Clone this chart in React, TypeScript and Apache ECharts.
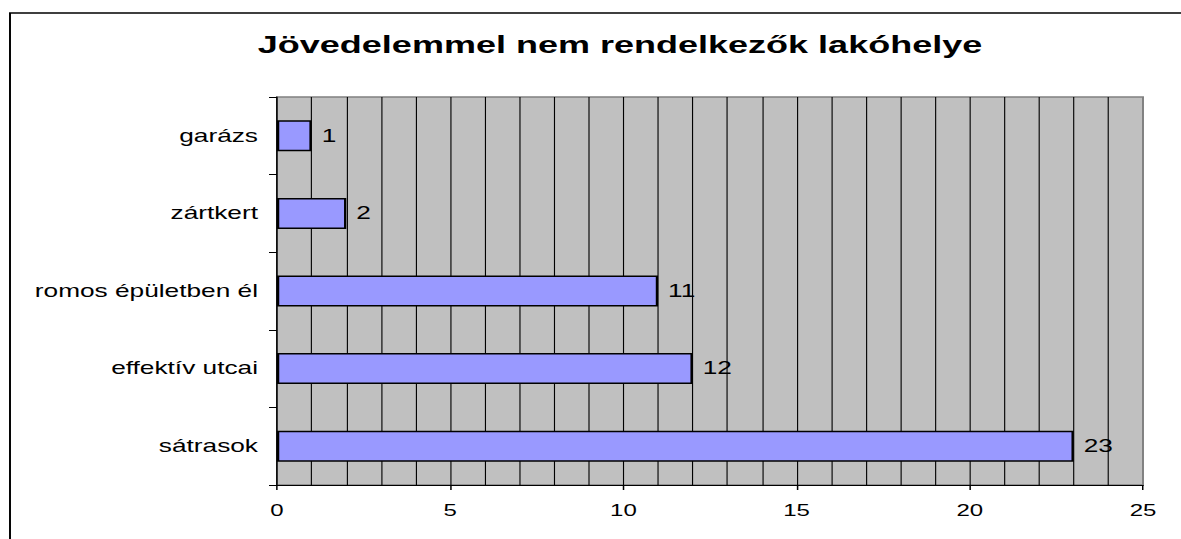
import React, { useEffect, useRef } from "react";
import * as echarts from "echarts";

const TITLE = "Jövedelemmel nem rendelkezők lakóhelye";
const categories = ["garázs", "zártkert", "romos épületben él", "effektív utcai", "sátrasok"];
const values = [1, 2, 11, 12, 23];
const xMin = 0;
const xMax = 25;
const xInterval = 5;

const W = 1181;
const H = 539;
const INNER_W = 787;
const SX = W / INNER_W;
const FONT = "'Liberation Sans', Arial, sans-serif";

export default function App() {
  const ref = useRef<HTMLDivElement>(null);
  useEffect(() => {
    document.body.style.margin = "0";
    const chart = echarts.init(ref.current!, null, { renderer: "svg" });
    chart.setOption({
      animation: false,
      backgroundColor: "#ffffff",
      graphic: [
        {
          type: "rect",
          shape: { x: 10 / SX, y: 13, width: 2000, height: 1000 },
          style: { fill: "none", stroke: "#000", lineWidth: 1.3 },
          silent: true,
        },
        {
          type: "text",
          x: 620 / SX,
          y: 44,
          style: {
            text: TITLE,
            fill: "#000",
            fontSize: 24,
            fontWeight: "bold",
            fontFamily: FONT,
            align: "center",
            verticalAlign: "middle",
          },
          silent: true,
        },
      ],
      grid: {
        left: 277 / SX,
        right: (W - 1143) / SX,
        top: 97,
        bottom: H - 485,
        show: true,
        backgroundColor: "#C0C0C0",
        borderColor: "#808080",
        borderWidth: 1.3,
        containLabel: false,
      },
      xAxis: {
        type: "value",
        min: xMin,
        max: xMax,
        interval: xInterval,
        axisLine: { show: true, lineStyle: { color: "#000", width: 1 } },
        axisTick: { show: true, inside: false, length: 5, lineStyle: { color: "#000", width: 1 } },
        axisLabel: { color: "#000", fontSize: 16, fontFamily: FONT, margin: 18 },
        splitLine: { show: true, showMinLine: false, showMaxLine: false, lineStyle: { color: "#000", width: 0.75 } },
        minorTick: { show: false, splitNumber: 5 },
        minorSplitLine: { show: true, lineStyle: { color: "#000", width: 0.75 } },
      },
      yAxis: {
        type: "category",
        data: categories,
        inverse: true,
        axisLine: { show: true, lineStyle: { color: "#000", width: 1 } },
        axisTick: { show: true, inside: false, length: 8 / SX, lineStyle: { color: "#000", width: 1 } },
        axisLabel: { color: "#000", fontSize: 17.5, fontFamily: FONT, margin: 19 / SX },
        splitLine: { show: false },
      },
      series: [
        {
          type: "bar",
          data: values,
          barWidth: "40%",
          itemStyle: { color: "#9999FF", borderColor: "#000", borderWidth: 1.5 },
          label: {
            show: true,
            position: "right",
            distance: 10 / SX,
            color: "#000",
            fontSize: 17.5,
            fontFamily: FONT,
          },
        },
      ],
    });
    return () => chart.dispose();
  }, []);
  return (
    <div style={{ position: "fixed", left: 0, top: 0, width: W, height: H, overflow: "hidden", background: "#fff" }}>
      <div
        ref={ref}
        style={{ width: INNER_W, height: H, transform: `scaleX(${SX})`, transformOrigin: "0 0" }}
      />
    </div>
  );
}
